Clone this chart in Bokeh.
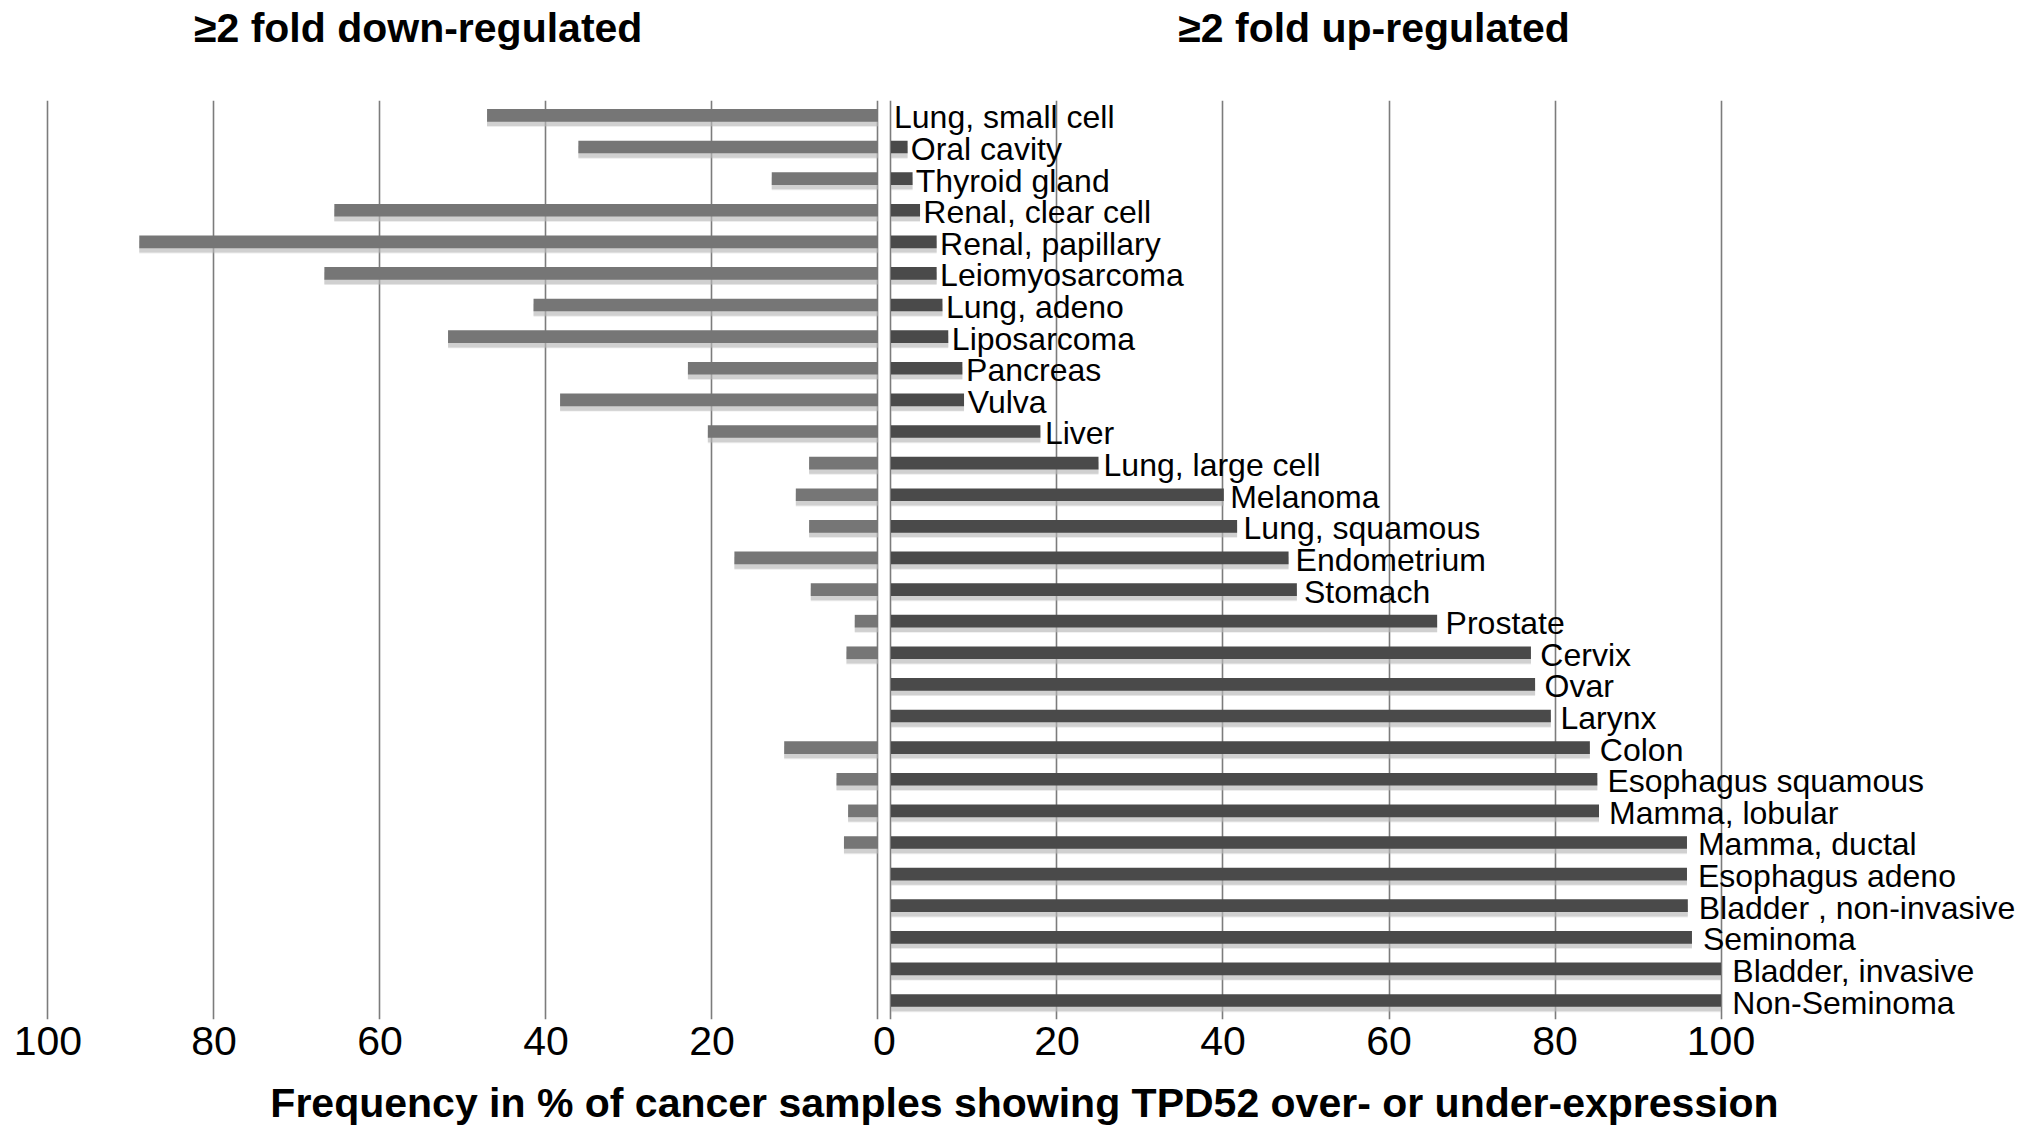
import numpy as np
from bokeh.plotting import figure
from bokeh.layouts import column
from bokeh.models import (ColumnDataSource, FixedTicker, CustomJSTickFormatter,
                          Range1d)
from bokeh.transform import dodge
from bokeh.core.properties import value
from bokeh.embed import file_html
from bokeh.resources import INLINE

# ---------------- data ----------------
categories = [
    "Lung, small cell", "Oral cavity", "Thyroid gland", "Renal, clear cell",
    "Renal, papillary", "Leiomyosarcoma", "Lung, adeno", "Liposarcoma",
    "Pancreas", "Vulva", "Liver", "Lung, large cell", "Melanoma",
    "Lung, squamous", "Endometrium", "Stomach", "Prostate", "Cervix", "Ovar",
    "Larynx", "Colon", "Esophagus squamous", "Mamma, lobular", "Mamma, ductal",
    "Esophagus adeno", "Bladder , non-invasive", "Seminoma",
    "Bladder, invasive", "Non-Seminoma",
]
# % of samples >=2 fold up-regulated
up_pct = [0.0, 2.0, 2.6, 3.5, 5.5, 5.5, 6.2, 6.9, 8.6, 8.8, 18.0, 25.0, 40.1,
          41.7, 47.9, 48.9, 65.8, 77.1, 77.6, 79.5, 84.2, 85.1, 85.3, 95.9,
          95.9, 96.0, 96.5, 100.0, 100.0]
# % of samples >=2 fold down-regulated
down_pct = [47.1, 36.1, 12.8, 65.5, 89.0, 66.7, 41.5, 51.8, 22.9, 38.3, 20.5,
            8.3, 9.9, 8.3, 17.3, 8.1, 2.8, 3.8, 0.0, 0.0, 11.3, 5.0, 3.6, 4.1,
            0.0, 0.0, 0.0, 0.0, 0.0]
tick_values = [0, 20, 40, 60, 80, 100]

panel_titles = ["\u22652 fold down-regulated", "\u22652 fold up-regulated"]
x_title = "Frequency in % of cancer samples showing TPD52 over- or under-expression"

# ---------------- layout / style constants ----------------
GAP = 1.566          # gap (in % units) between the two zero lines
FONT = "Liberation Sans"
UP_COLOR = "#4a4a4a"
DOWN_COLOR = "#767676"
SHADOW = "#b8b8b8"
GRID = "#7c7c7c"
X_START, X_END = -103.31, 135.48
W = 2015
BORDER_L = 33

n = len(categories)
row = np.arange(n)
up = np.array(up_pct)
down = np.array(down_pct)

src = ColumnDataSource(dict(
    row=row,
    cat=categories,
    up=up,
    zero_r=np.zeros(n),
    zero_l=np.full(n, -GAP),
    down_end=-(GAP + down),
    label_x=up * 1.01,
))

x_range = Range1d(X_START, X_END)

# ---------------- header with the two panel titles ----------------
head = figure(width=W, height=100, output_backend="svg", toolbar_location=None,
              x_range=x_range, y_range=Range1d(0, 100),
              x_axis_location=None, y_axis_location=None,
              min_border_left=BORDER_L, min_border_right=0,
              min_border_top=0, min_border_bottom=0)
head.outline_line_color = None
head.grid.grid_line_color = None
head_src = ColumnDataSource(dict(
    x=[-(GAP + 55.4), 58.2],   # centres of the left and right panels' titles
    y=[73, 73],
    text=panel_titles,
))
head.text(x="x", y="y", text="text", source=head_src, text_align="center",
          text_baseline="alphabetic", text_font=value(FONT),
          text_font_size="41px", text_font_style="bold", text_color="black")

# ---------------- main chart ----------------
p = figure(width=W, height=1030, output_backend="svg", toolbar_location=None,
           x_range=x_range,
           y_range=Range1d(n - 1 + 0.6, -0.47),
           y_axis_location=None,
           min_border_left=BORDER_L, min_border_right=0,
           min_border_top=0, min_border_bottom=111,
           background_fill_color="white", border_fill_color="white")
p.outline_line_color = None

# soft drop shadows
for off, h, a in ((0.15, 0.38, 0.55), (0.25, 0.24, 0.25)):
    p.hbar(y=dodge("row", off), left="zero_r", right="up", height=h,
           source=src, fill_color=SHADOW, fill_alpha=a, line_color=None)
    p.hbar(y=dodge("row", off), left="down_end", right="zero_l", height=h,
           source=src, fill_color=SHADOW, fill_alpha=a, line_color=None)

# bars
p.hbar(y="row", left="zero_r", right="up", height=0.40, source=src,
       fill_color=UP_COLOR, line_color=None)
p.hbar(y="row", left="down_end", right="zero_l", height=0.40, source=src,
       fill_color=DOWN_COLOR, line_color=None)

# category labels next to the up bars
p.text(x="label_x", y="row", text="cat", source=src, x_offset=3, y_offset=2,
       text_align="left", text_baseline="middle",
       text_font=value(FONT), text_font_size="32px", text_color="black")

# grid at both sets of ticks
grid_ticks = [-(GAP + v) for v in tick_values] + list(tick_values)
p.xgrid.ticker = FixedTicker(ticks=grid_ticks)
p.xgrid.grid_line_color = GRID
p.xgrid.grid_line_width = 1.6
p.ygrid.grid_line_color = None

# axis: a single "0" label between the two zero lines
axis_ticks = ([-(GAP + v) for v in tick_values if v > 0] + [-GAP / 2]
              + [v for v in tick_values if v > 0])
p.xaxis.ticker = FixedTicker(ticks=axis_ticks)
p.xaxis.formatter = CustomJSTickFormatter(args=dict(g=GAP), code="""
    let v;
    if (tick < -g) { v = -tick - g; }
    else if (tick < 0) { v = 0; }
    else { v = tick; }
    return Math.round(v).toString();
""")
p.xaxis.axis_line_color = None
p.xaxis.major_tick_line_color = None
p.xaxis.minor_tick_line_color = None
p.xaxis.major_tick_out = 0
p.xaxis.minor_tick_out = 0
p.xaxis.major_label_text_font = FONT
p.xaxis.major_label_text_font_size = "41px"
p.xaxis.major_label_text_color = "black"
p.xaxis.major_label_standoff = 7
p.xaxis.axis_label = x_title
p.xaxis.axis_label_text_font = FONT
p.xaxis.axis_label_text_font_size = "41px"
p.xaxis.axis_label_text_font_style = "bold"
p.xaxis.axis_label_text_color = "black"
p.xaxis.axis_label_standoff = 22

layout = column(head, p, spacing=0)
open("out.html", "w").write(file_html(layout, INLINE))
